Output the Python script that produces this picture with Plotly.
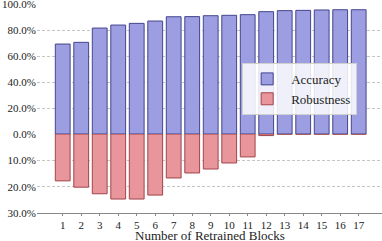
import plotly.graph_objects as go

blocks = list(range(1, 18))
block_labels = [str(b) for b in blocks]
accuracy = [69.2, 70.5, 81.5, 83.8, 85.1, 86.9, 90.2, 90.3, 91.0, 91.3, 91.8,
            94.1, 94.9, 95.1, 95.4, 95.6, 95.6]
robustness = [17.8, 20.2, 22.7, 24.7, 24.7, 23.2, 16.7, 14.8, 13.3, 11.0, 8.7,
              0.6, 0.1, 0.1, 0.1, 0.1, 0.1]
acc_ticks = [0, 20, 40, 60, 80, 100]
acc_tick_text = ["0.0%", "20.0%", "40.0%", "60.0%", "80.0%", "100.0%"]
rob_ticks = [-30, -20, -10]
rob_tick_text = ["30.0%", "20.0%", "10.0%"]

font = "Liberation Serif"
split = 79 / 209  # fraction of plot height used by the robustness (downward) panel

fig = go.Figure()
fig.add_trace(go.Bar(
    x=blocks, y=accuracy, name="Accuracy", width=0.8, yaxis="y",
    marker=dict(color="#9d9de2", line=dict(color="#45458c", width=1)),
))
fig.add_trace(go.Bar(
    x=blocks, y=[-r for r in robustness], name="Robustness", width=0.8, yaxis="y2",
    marker=dict(color="#e8959b", line=dict(color="#a2454b", width=1)),
))

grid = dict(showgrid=True, gridcolor="#c4c4c4", griddash="3px,2px", gridwidth=0.8,
            zeroline=False, showline=False, ticks="",
            tickfont=dict(family=font, size=11, color="#222"),
            ticklabeloverflow="allow")

fig.update_layout(
    width=382, height=241,
    margin=dict(l=37, r=0, t=4, b=28),
    plot_bgcolor="white", paper_bgcolor="white",
    font=dict(family=font, size=11, color="#222"),
    showlegend=True,
    legend=dict(
        x=0.928, y=0.718, xanchor="right", yanchor="top",
        bgcolor="rgba(255,255,255,0.85)", bordercolor="#d0d0d0", borderwidth=1,
        font=dict(family=font, size=13, color="#222"),
        itemwidth=38, tracegroupgap=2,
    ),
    xaxis=dict(
        range=[-0.39, 18.26], tickvals=blocks, ticktext=block_labels,
        showgrid=False, zeroline=False,
        showline=True, linecolor="#888", linewidth=1.2,
        ticks="outside", ticklen=2, tickcolor="#888",
        tickfont=dict(family=font, size=11, color="#222"),
        automargin=False, anchor="y2",
    ),
    yaxis=dict(domain=[split, 1], range=[0, 100], tickvals=acc_ticks,
               ticktext=acc_tick_text, automargin=False, **grid),
    yaxis2=dict(domain=[0, split], range=[-30, 0], tickvals=rob_ticks,
                ticktext=rob_tick_text, automargin=False, **grid),
    annotations=[dict(
        text="Number of Retrained Blocks", xref="paper", yref="paper",
        x=0.5, y=-0.108, xanchor="center", yanchor="middle", showarrow=False,
        font=dict(family=font, size=13, color="#222"),
    )],
)

fig.write_html("out.html", config={"displayModeBar": False},
               post_script="document.body.style.margin='0';")
